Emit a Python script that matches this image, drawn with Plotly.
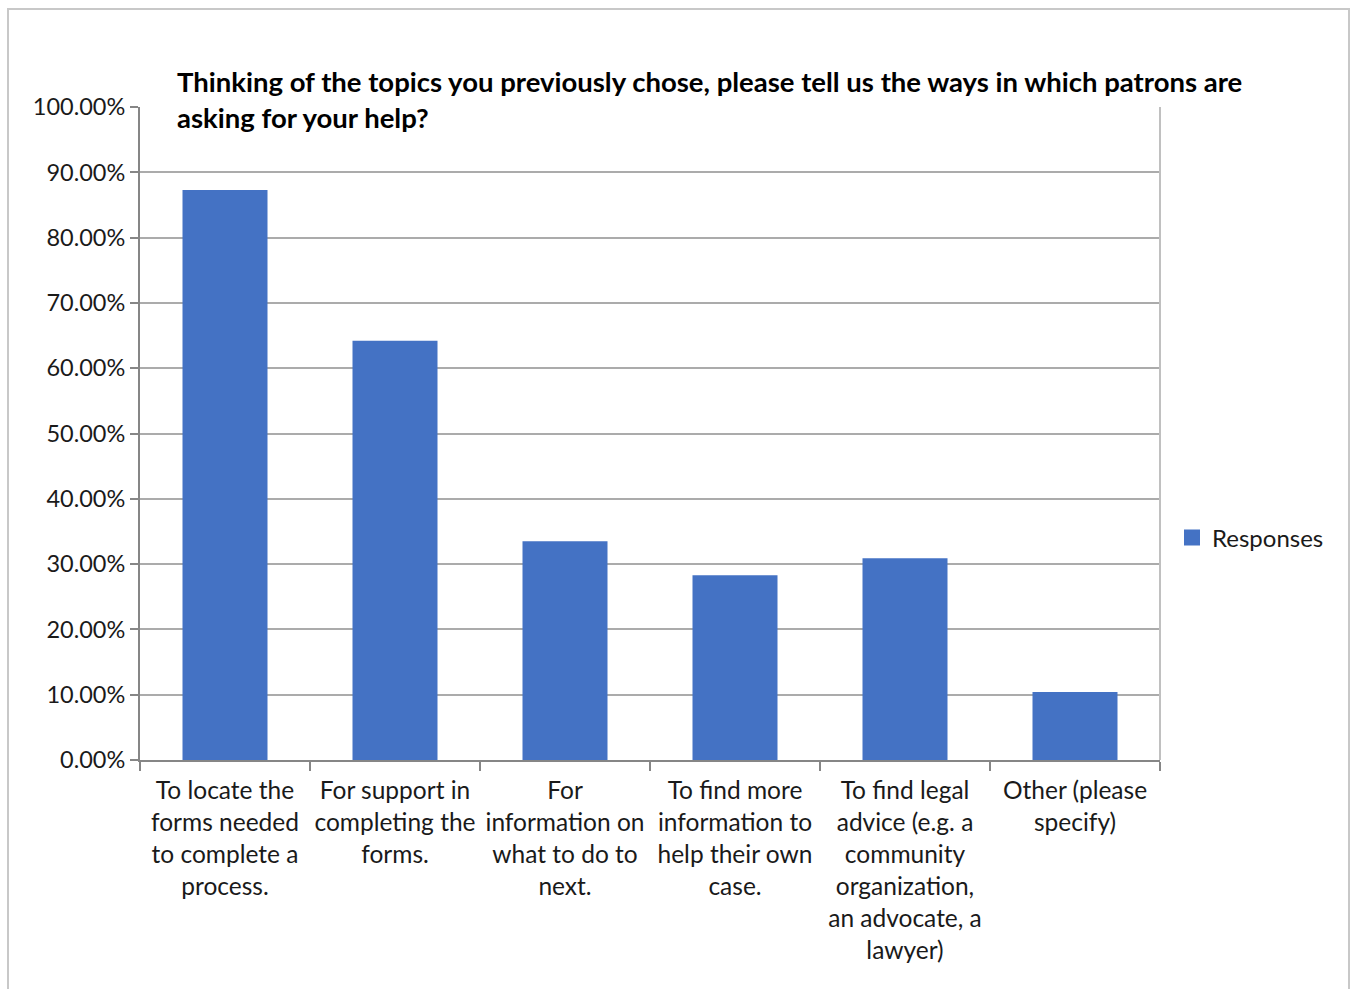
import plotly.graph_objects as go

categories = [
    "To locate the<br>forms needed<br>to complete a<br>process.",
    "For support in<br>completing the<br>forms.",
    "For<br>information on<br>what to do to<br>next.",
    "To find more<br>information to<br>help their own<br>case.",
    "To find legal<br>advice (e.g. a<br>community<br>organization,<br>an advocate, a<br>lawyer)",
    "Other (please<br>specify)",
]
responses = [0.873, 0.642, 0.335, 0.283, 0.309, 0.104]
series_name = "Responses"
title_text = ("Thinking of the topics you previously chose, please tell us the ways in which patrons are"
              "<br>asking for your help?")

FONT = "Lato"
BAR_COLOR = "#4472C4"
L, R, T, B = 140, 1160, 107, 760
W, H = 1352, 989
pw, ph = R - L, B - T

def px_x(x):
    return (x - L) / pw

def px_y(y):
    return (B - y) / ph

fig = go.Figure()
fig.add_trace(go.Bar(
    x=categories, y=responses, name=series_name,
    marker=dict(color=BAR_COLOR, line=dict(width=0)),
    showlegend=False,
))
# legend entry with a larger square swatch
fig.add_trace(go.Scatter(
    x=[None], y=[None], mode="markers", name=series_name,
    marker=dict(symbol="square", size=17, color=BAR_COLOR),
    showlegend=True,
))

fig.update_layout(
    width=W, height=H,
    margin=dict(l=L, r=W - R, t=T, b=H - B, pad=0, autoexpand=False),
    paper_bgcolor="white", plot_bgcolor="white",
    bargap=0.5,
    font=dict(family=FONT, size=23, color="#1a1a1a"),
    showlegend=True,
    legend=dict(x=px_x(1172), y=px_y(538), xanchor="left", yanchor="middle",
                font=dict(family=FONT, size=24, color="#1a1a1a"),
                bgcolor="rgba(0,0,0,0)"),
    xaxis=dict(
        showline=True, linecolor="#868686", linewidth=2,
        ticks="outside", tickson="boundaries", ticklen=9, tickcolor="#868686", tickwidth=2,
        tickfont=dict(family=FONT, size=24.5, color="#1a1a1a"),
        tickangle=0, automargin=False,
        ticklabelstandoff=8,
        showgrid=False, fixedrange=True,
    ),
    yaxis=dict(
        range=[0, 1], dtick=0.1, tickformat=".2%",
        showline=True, linecolor="#868686", linewidth=2, mirror=False,
        ticks="outside", ticklen=8, tickcolor="#868686", tickwidth=2,
        showgrid=True, gridcolor="#ababab", gridwidth=2,
        zeroline=False, automargin=False,
        tickfont=dict(family=FONT, size=23.5, color="#1a1a1a"),
    ),
    annotations=[dict(
        text="<b>" + title_text.replace("<br>", "</b><br><b>") + "</b>",
        xref="paper", yref="paper", x=px_x(175), y=px_y(63),
        xanchor="left", yanchor="top", align="left", showarrow=False,
        font=dict(family=FONT, size=27.5, color="#000000"),
    )],
    shapes=[
        dict(type="rect", xref="paper", yref="paper",
             x0=px_x(8), x1=px_x(1349), y0=px_y(1000), y1=px_y(9),
             line=dict(color="#c8c8c8", width=2), fillcolor="rgba(0,0,0,0)", layer="below"),
        dict(type="line", xref="paper", yref="paper",
             x0=1, x1=1, y0=0, y1=1, line=dict(color="#c0c0c0", width=2)),
    ],
)

fig.write_html("out.html")
